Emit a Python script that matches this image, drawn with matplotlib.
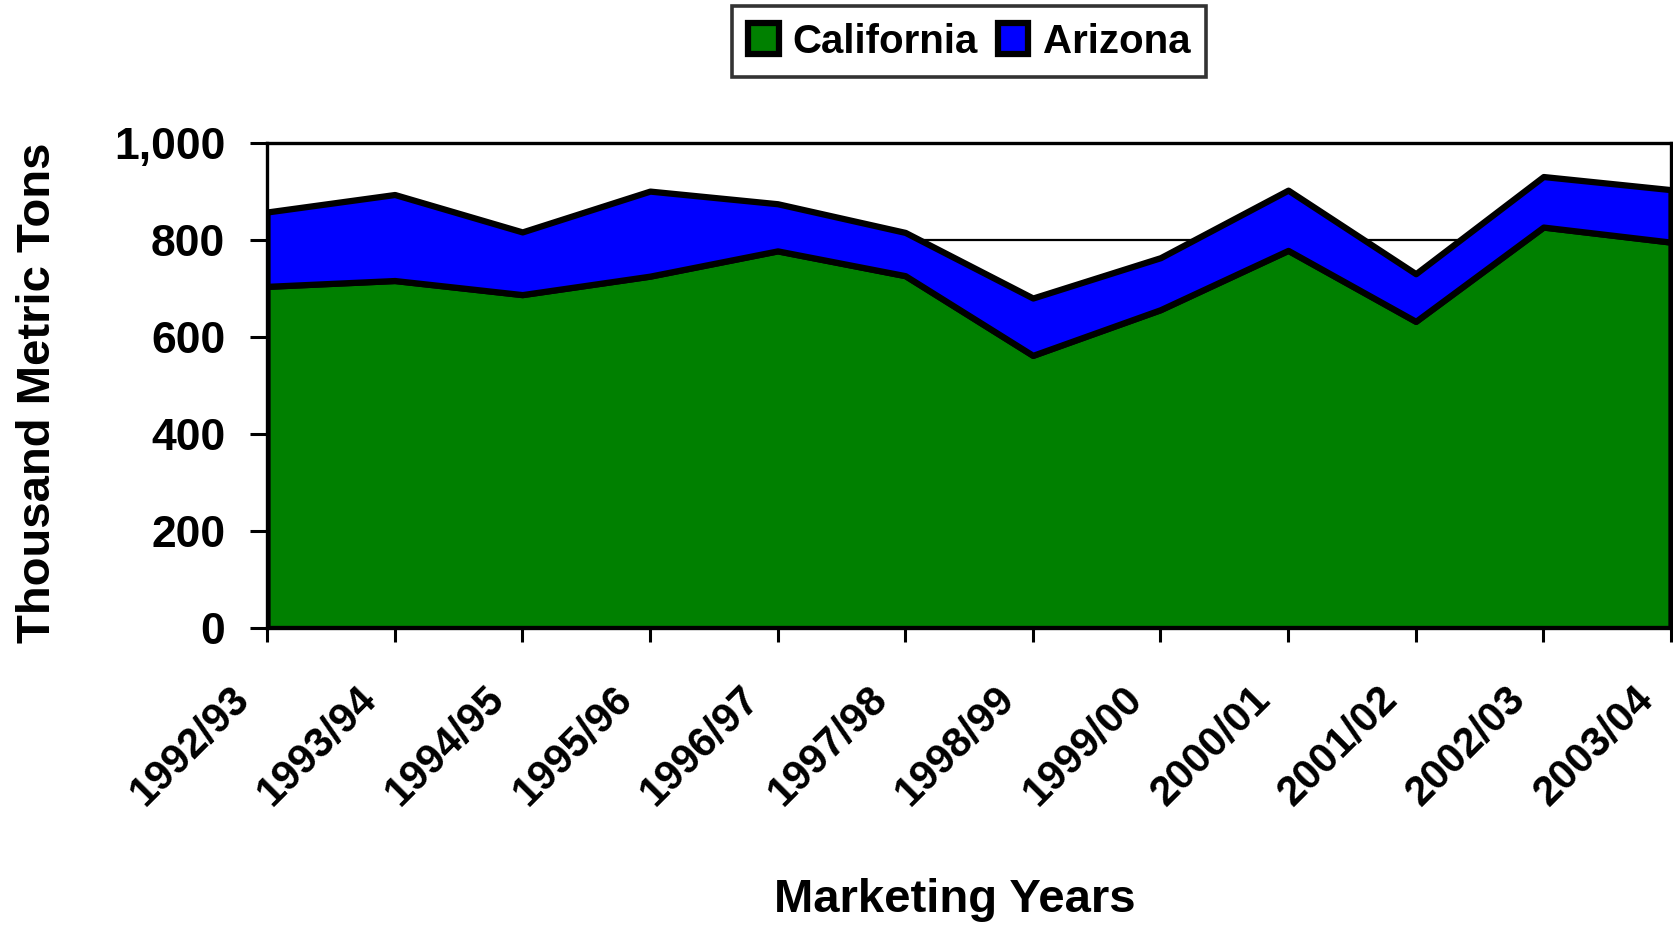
import numpy as np
import matplotlib
matplotlib.use("Agg")
import matplotlib.pyplot as plt
from matplotlib.ticker import FuncFormatter
from matplotlib.transforms import ScaledTranslation

plt.rcParams['font.family'] = ['Liberation Sans', 'DejaVu Sans']
plt.rcParams['font.weight'] = 'bold'

# marketing years and production (thousand metric tons)
years = ['1992/93', '1993/94', '1994/95', '1995/96', '1996/97', '1997/98',
         '1998/99', '1999/00', '2000/01', '2001/02', '2002/03', '2003/04']
california = [704, 716, 687, 725, 777, 726, 562, 656, 778, 632, 826, 795]
arizona = [153, 177, 129, 175, 97, 89, 118, 107, 124, 98, 104, 108]
yticks = [0, 200, 400, 600, 800, 1000]

fig = plt.figure(figsize=(16.73, 9.26), dpi=100)
ax = fig.add_axes([0.1596, 0.3213, 0.8392, 0.5248])

x = np.arange(len(years))
polys = ax.stackplot(x, california, arizona, colors=['#008000', '#0000FF'],
                     labels=['California', 'Arizona'],
                     edgecolor='black', linewidth=4.5, zorder=3)

ax.set_xlim(0, len(years) - 1)
ax.set_ylim(0, 1000)
ax.set_yticks(yticks)
ax.yaxis.set_major_formatter(FuncFormatter(lambda v, p: f'{int(v):,}'))
ax.set_xticks(x)
ax.set_xticklabels(years, rotation=45, ha='right', va='top')

# gridlines behind the areas
ax.set_axisbelow(True)
ax.grid(axis='y', color='black', linewidth=1.6)

for sp in ax.spines.values():
    sp.set_linewidth(2.4)
    sp.set_color('black')
    sp.set_zorder(5)

ax.tick_params(axis='y', direction='out', length=12, width=2.2, pad=18, labelsize=32)
ax.tick_params(axis='x', direction='out', length=10, width=2.2, pad=26.5, labelsize=30)

offset = ScaledTranslation(-0.1, 0, fig.dpi_scale_trans)
for lab in ax.get_xticklabels():
    lab.set_transform(lab.get_transform() + offset)

ax.set_ylabel('Thousand Metric Tons', fontsize=34, fontweight='bold')
ax.yaxis.set_label_coords(-0.163, 0.4846)
ax.yaxis.label.set_va('center')
ax.set_xlabel('Marketing Years', fontsize=34, fontweight='bold')
ax.xaxis.set_label_coords(0.49, -0.5586)
ax.xaxis.label.set_va('center')

leg = fig.legend(handles=polys, labels=['California', 'Arizona'],
                 loc='upper center', bbox_to_anchor=(0.5794, 0.993),
                 ncol=2, fontsize=29, frameon=True, fancybox=False,
                 handlelength=0.75, handleheight=0.8, handletextpad=0.35,
                 columnspacing=0.5, borderpad=0.4, borderaxespad=0)
leg.get_frame().set_edgecolor('black')
leg.get_frame().set_linewidth(2.6)
for t in leg.get_texts():
    t.set_fontweight('bold')

fig.savefig('out.png', dpi=100)
